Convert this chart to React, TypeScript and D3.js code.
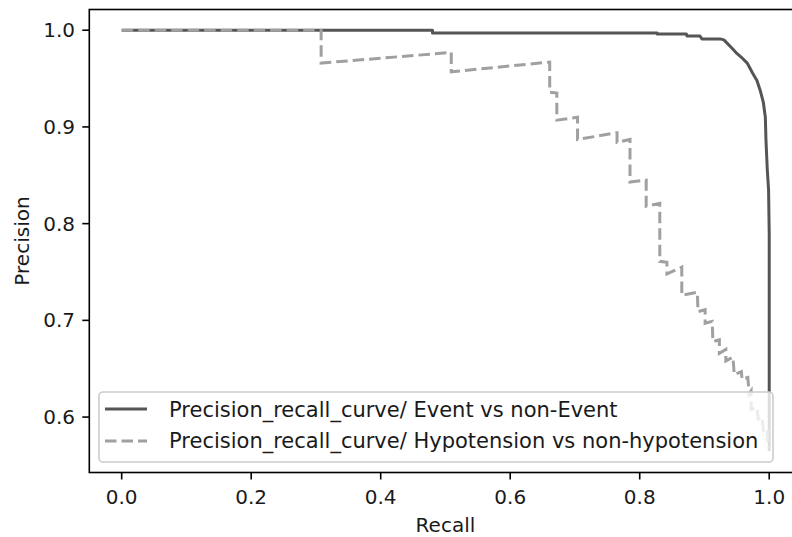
import React from "react";
import * as d3 from "d3";

// event vs non-event PR curve
const eventRecall = [0, 0.48, 0.48, 0.827, 0.827, 0.872, 0.873, 0.893, 0.896, 0.924, 0.93, 0.943, 0.95, 0.957, 0.966, 0.974, 0.981, 0.986, 0.991, 0.994, 0.995, 0.997, 0.999, 1.0, 1.0];
const eventPrecision = [1, 1, 0.997, 0.997, 0.996, 0.996, 0.994, 0.994, 0.991, 0.991, 0.99, 0.981, 0.976, 0.972, 0.966, 0.956, 0.948, 0.938, 0.925, 0.91, 0.886, 0.856, 0.835, 0.789, 0.565];

// hypotension vs non-hypotension PR curve
const hypoRecall = [0, 0.308, 0.308, 0.509, 0.509, 0.661, 0.661, 0.672, 0.672, 0.704, 0.704, 0.765, 0.765, 0.785, 0.785, 0.81, 0.81, 0.831, 0.831, 0.842, 0.842, 0.865, 0.865, 0.889, 0.89, 0.901, 0.901, 0.912, 0.913, 0.923, 0.923, 0.933, 0.933, 0.944, 0.946, 0.957, 0.958, 0.967, 0.969, 0.972, 0.972, 0.981, 0.983, 0.989, 0.991, 0.997, 0.997, 1.0];
const hypoPrecision = [1, 1, 0.966, 0.977, 0.957, 0.967, 0.936, 0.935, 0.907, 0.91, 0.887, 0.894, 0.884, 0.887, 0.843, 0.845, 0.818, 0.821, 0.761, 0.76, 0.748, 0.755, 0.726, 0.729, 0.709, 0.711, 0.697, 0.699, 0.678, 0.68, 0.666, 0.67, 0.658, 0.662, 0.644, 0.647, 0.639, 0.641, 0.624, 0.627, 0.608, 0.61, 0.598, 0.6, 0.586, 0.588, 0.576, 0.569];

const xTicks = [0, 0.2, 0.4, 0.6, 0.8, 1.0];
const yTicks = [0.6, 0.7, 0.8, 0.9, 1.0];
const labels = [
  "Precision_recall_curve/ Event vs non-Event",
  "Precision_recall_curve/ Hypotension vs non-hypotension",
];

const W = 792;
const H = 537;
const FONT = "DejaVu Sans, sans-serif";

export default function App() {
  const x = d3.scaleLinear().domain([-0.05, 1.05]).range([89.3, 801.6]);
  const y = d3.scaleLinear().domain([0.5427, 1.0214]).range([472.5, 9.5]);

  const line = d3
    .line<[number, number]>()
    .x((d) => x(d[0]))
    .y((d) => y(d[1]));

  const eventPts = eventRecall.map((r, i) => [r, eventPrecision[i]] as [number, number]);
  const hypoPts = hypoRecall.map((r, i) => [r, hypoPrecision[i]] as [number, number]);

  const left = x(-0.05);
  const right = x(1.05);
  const top = y(1.0214);
  const bottom = y(0.5427);

  // legend box
  const lgX = 99, lgY = 392, lgW = 674, lgH = 70;

  return (
    <svg width={W} height={H} style={{ position: "absolute", left: 0, top: 0 }} fontFamily={FONT}>
      <rect width={W} height={H} fill="white" />
      <defs>
        <clipPath id="plot">
          <rect x={left} y={top} width={right - left} height={bottom - top} />
        </clipPath>
      </defs>
      <g clipPath="url(#plot)">
        <path d={line(eventPts) || ""} fill="none" stroke="#555555" strokeWidth={3} strokeLinejoin="round" />
        <path d={line(hypoPts) || ""} fill="none" stroke="#a0a0a0" strokeWidth={3} strokeDasharray="11.5,5" />
      </g>

      {/* legend */}
      <rect x={lgX} y={lgY} width={lgW} height={lgH} rx={4} fill="white" fillOpacity={0.8} stroke="#cccccc" strokeWidth={1.6} />
      <line x1={105} x2={147} y1={409} y2={409} stroke="#555555" strokeWidth={3} />
      <line x1={105} x2={147} y1={441} y2={441} stroke="#a0a0a0" strokeWidth={3} strokeDasharray="11.5,5" />
      {labels.map((t, i) => (
        <text key={t} x={169} y={416.5 + i * 31.5} fontSize={21} fill="#1a1a1a">
          {t}
        </text>
      ))}

      {/* frame */}
      <rect x={left} y={top} width={right - left} height={bottom - top} fill="none" stroke="black" strokeWidth={1.6} />

      {xTicks.map((t) => (
        <g key={"x" + t}>
          <line x1={x(t)} x2={x(t)} y1={bottom} y2={bottom + 7} stroke="black" strokeWidth={1.6} />
          <text x={x(t)} y={504} textAnchor="middle" fontSize={20} fill="#1a1a1a">
            {d3.format(".1f")(t)}
          </text>
        </g>
      ))}
      {yTicks.map((t) => (
        <g key={"y" + t}>
          <line x1={left - 7} x2={left} y1={y(t)} y2={y(t)} stroke="black" strokeWidth={1.6} />
          <text x={75} y={y(t) + 7} textAnchor="end" fontSize={20} fill="#1a1a1a">
            {d3.format(".1f")(t)}
          </text>
        </g>
      ))}

      <text x={(left + right) / 2} y={532} textAnchor="middle" fontSize={20} fill="#1a1a1a">
        Recall
      </text>
      <text transform={`translate(29,${(top + bottom) / 2}) rotate(-90)`} textAnchor="middle" fontSize={20} fill="#1a1a1a">
        Precision
      </text>
    </svg>
  );
}
